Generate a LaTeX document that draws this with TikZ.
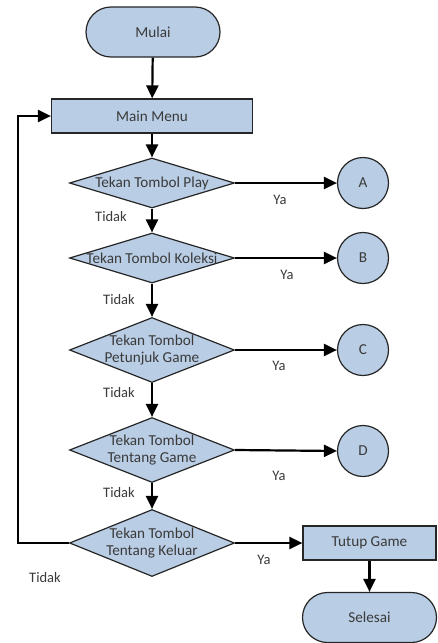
\documentclass[tikz,border=0pt]{standalone}
\usepackage{fontspec}
\setmainfont{Carlito}
\usetikzlibrary{shapes.geometric,arrows.meta}
\definecolor{boxfill}{HTML}{B9CDE5}
\definecolor{txtc}{HTML}{3A3A3A}
\begin{document}
\begin{tikzpicture}[x=1pt,y=-1pt,
  font=\fontsize{15.2}{17}\selectfont, text=txtc,
  base/.style={draw=black!85, line width=1.2pt, fill=boxfill, inner sep=0pt},
  term/.style={base, rectangle, rounded corners=25pt, minimum width=134pt, minimum height=50pt},
  proc/.style={base, rectangle, minimum width=#1, minimum height=34pt},
  dec/.style={base, diamond, minimum width=165pt, minimum height=#1},
  conn/.style={base, circle, minimum size=51pt},
  txt/.style={align=center, inner sep=0pt},
  lab/.style={inner sep=0pt, font=\fontsize{14.5}{16}\selectfont},
  arr/.style={line width=2.2pt, -{Triangle[length=13pt,width=12pt]}},
  ln/.style={line width=2.2pt}]
\useasboundingbox (0,0) rectangle (437,643);

\node[term] (mulai) at (153,32) {Mulai};
\node[proc=201pt] (menu) at (152,116) {Main Menu};

\node[dec=50pt] (d1) at (152,183) {};
\node[txt] (t1) at (d1) {Tekan Tombol Play};
\node[dec=50pt] (d2) at (152,258) {};
\node[txt] (t2) at (d2) {Tekan Tombol Koleksi};
\node[dec=65pt] (d3) at (152,350) {};
\node[txt] (t3) at (d3) {Tekan Tombol\\Petunjuk Game};
\node[dec=65pt] (d4) at (152,450) {};
\node[txt] (t4) at (d4) {Tekan Tombol\\Tentang Game};
\node[dec=67pt] (d5) at (152,543) {};
\node[txt] (t5) at (d5) {Tekan Tombol\\Tentang Keluar};

\node[conn] (ca) at (363,183) {A};
\node[conn] (cb) at (363,258) {B};
\node[conn] (cc) at (363,350) {C};
\node[conn] (cd) at (363,451) {D};

\node[proc=133pt] (tutup) at (369.5,543) {Tutup Game};
\node[term] (selesai) at (369.5,617.5) {Selesai};

\coordinate (lb) at (18,543);
\coordinate (lt) at (18,116);

\draw[arr] (mulai) -- (menu);
\draw[arr] (menu) -- (d1);
\draw[arr] (d1) -- (d2);
\draw[arr] (d2) -- (d3);
\draw[arr] (d3) -- (d4);
\draw[arr] (d4) -- (d5);
\draw[arr] (d1) -- (ca);
\draw[arr] (d2) -- (cb);
\draw[arr] (d3) -- (cc);
\draw[arr] (d4.east) -- (cd.west);
\draw[arr] (d5) -- (tutup);
\draw[arr] (tutup) -- (selesai);
\draw[arr] (d5.west) -- (lb) -- (lt) -- (menu.west);

\node[lab] (y1) at (280,200) {Ya};
\node[lab] (y2) at (287,275) {Ya};
\node[lab] (y3) at (279,366) {Ya};
\node[lab] (y4) at (279,476) {Ya};
\node[lab] (y5) at (264,560) {Ya};
\node[lab] (n1) at (111,217) {Tidak};
\node[lab] (n2) at (119,300) {Tidak};
\node[lab] (n3) at (119,393) {Tidak};
\node[lab] (n4) at (119,493) {Tidak};
\node[lab] (n5) at (45,578) {Tidak};
\end{tikzpicture}
\end{document}
